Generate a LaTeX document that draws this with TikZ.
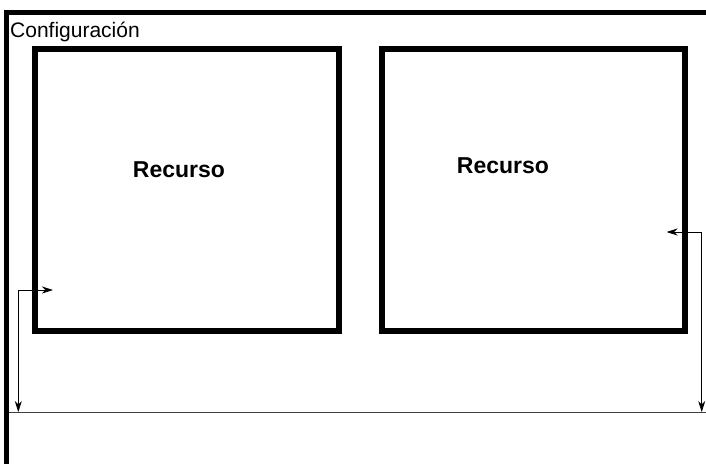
\documentclass[tikz,border=0pt]{standalone}
\usepackage{fontspec}
\setmainfont{Liberation Sans}
\usetikzlibrary{arrows.meta,positioning}

\begin{document}
\begin{tikzpicture}[
  x=1pt, y=-1pt,
  res/.style={draw, line width=6pt, minimum width=303.5pt, minimum height=282pt, inner sep=0pt, outer sep=0pt},
  lab/.style={font=\fontsize{23}{27}\selectfont\bfseries},
  frame/.style={line width=5pt},
  bus/.style={line width=1.5pt, black!75},
  pf/.style={line width=0.8pt, {Stealth[length=11pt,width=7pt,inset=3.5pt]}-{Stealth[length=11pt,width=7pt,inset=3.5pt]}}
]
\useasboundingbox (0,0) rectangle (706,464);
% frame of the configuration
\coordinate (tl) at (6.5,12);
\coordinate (tr) at (706,12);
\coordinate (bl) at (6.5,464);
\draw[frame] (tr) -- (tl) -- (bl);
\node[anchor=base west, font=\fontsize{21}{25}\selectfont, inner sep=0pt] (conf) at (10,37.5) {Configuración};
% resources
\node[res] (res1) at (186.75,189.5) {};
\node[res] (res2) at (533.25,189.5) {};
\node[lab] (lab1) at (179,170) {Recurso};
\node[lab] (lab2) at (503,166) {Recurso};
% bus line
\coordinate (busl) at (9,412.5);
\coordinate (busr) at (706,412.5);
\draw[bus] (busl) -- (busr);
% links
\coordinate (in1) at (53,290);
\coordinate (c1) at (18.3,290);
\coordinate (b1) at (18.3,412);
\coordinate (in2) at (666.5,232);
\coordinate (c2) at (701.7,232);
\coordinate (b2) at (701.7,412);
\draw[pf] (in1) -- (c1) -- (b1);
\draw[pf] (in2) -- (c2) -- (b2);
\end{tikzpicture}
\end{document}
